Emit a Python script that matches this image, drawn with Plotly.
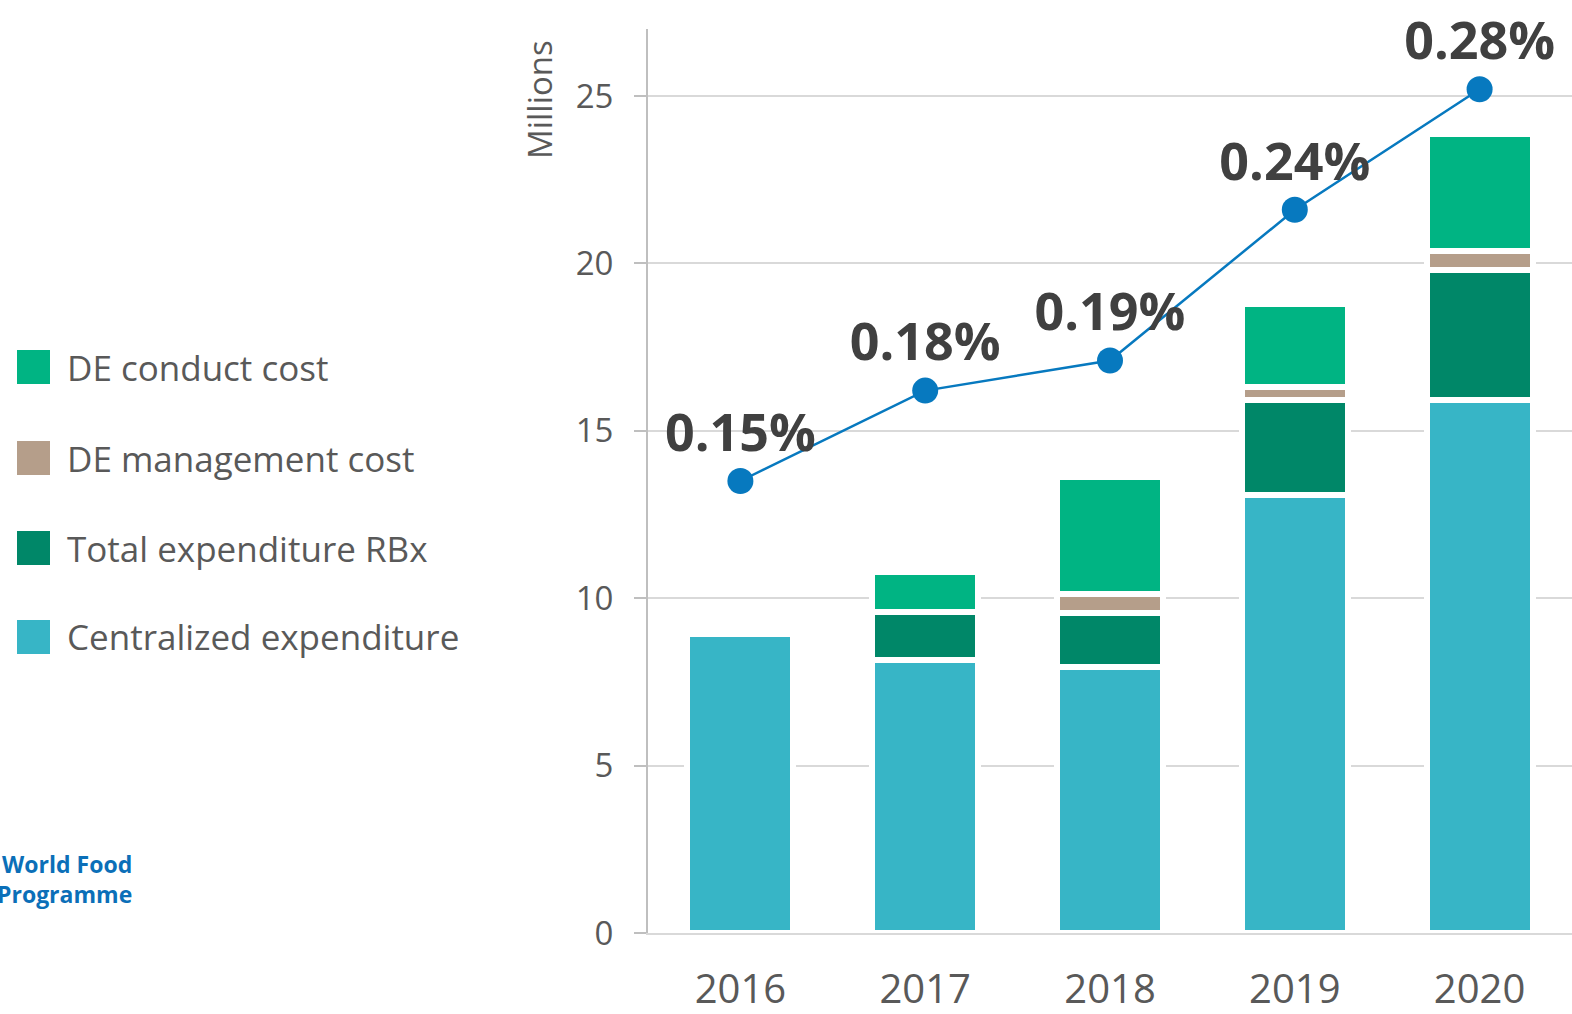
import plotly.graph_objects as go

# ---- data ----
years = ["2016", "2017", "2018", "2019", "2020"]
centralized = [8.93, 8.15, 7.94, 13.08, 15.93]
rbx = [None, 1.43, 1.61, 2.85, 3.86]
mgmt = [None, None, 0.57, 0.38, 0.58]
conduct = [None, 1.20, 3.50, 2.48, 3.49]
share_pct = [0.15, 0.18, 0.19, 0.24, 0.28]
share_labels = ["0.15%", "0.18%", "0.19%", "0.24%", "0.28%"]

series_names = ["Centralized expenditure", "Total expenditure RBx",
                "DE management cost", "DE conduct cost"]
series_values = [centralized, rbx, mgmt, conduct]
series_colors = ["#37B5C6", "#008768", "#B59E8A", "#00B483"]
y_ticks = [0, 5, 10, 15, 20, 25]

# ---- geometry (pixels) ----
W, H = 1572, 1014
T, B = 29, 81
PLOT_LEFT = 648
PH = H - T - B


def px_x(p):
    return p / W


def px_y(p):
    return (H - B - p) / PH


fig = go.Figure()

for name, vals, col in zip(series_names, series_values, series_colors):
    fig.add_trace(go.Bar(
        x=years, y=vals, name=name, width=0.573,
        marker=dict(color=col, line=dict(color="white", width=6)),
        showlegend=False, hoverinfo="x+y+name",
    ))

fig.add_trace(go.Scatter(
    x=years, y=share_pct, yaxis="y2", mode="lines+markers+text",
    text=share_labels, textposition="top center", cliponaxis=False,
    textfont=dict(family="Open Sans", size=52, color="#404040", weight="bold"),
    line=dict(color="#0779BF", width=2.5),
    marker=dict(color="#0779BF", size=26),
    showlegend=False, name="Share",
))

# manual legend (top to bottom: reversed series order)
legend_y = [367, 458, 548, 637]
shapes = []
annotations = []
for (name, col), cy in zip(list(zip(series_names, series_colors))[::-1], legend_y):
    shapes.append(dict(type="rect", xref="paper", yref="paper",
                       x0=px_x(17), x1=px_x(50), y0=px_y(cy + 17), y1=px_y(cy - 17),
                       fillcolor=col, line=dict(width=0)))
    annotations.append(dict(xref="paper", yref="paper", x=px_x(65), y=px_y(cy),
                            xanchor="left", yanchor="middle", showarrow=False,
                            text=name, font=dict(family="Open Sans", size=35, color="#595959")))

# axis title
annotations.append(dict(xref="paper", yref="paper", x=px_x(540), y=px_y(100),
                        xanchor="center", yanchor="middle", showarrow=False, textangle=-90,
                        text="Millions", font=dict(family="Open Sans", size=33, color="#595959")))

# logo text (at the left edge, as in the original)
annotations.append(dict(xref="paper", yref="paper", x=px_x(134), y=px_y(879),
                        xanchor="right", yanchor="middle", showarrow=False, align="right",
                        text="<b>World Food<br>Programme</b>",
                        font=dict(family="Open Sans", size=23, color="#0B6FB8")))

fig.update_layout(
    width=W, height=H, autosize=False,
    margin=dict(l=0, r=0, t=T, b=B, pad=0, autoexpand=False),
    paper_bgcolor="white", plot_bgcolor="white",
    barmode="stack", bargap=0.427,
    font=dict(family="Open Sans", color="#595959"),
    xaxis=dict(domain=[PLOT_LEFT / W, 1], showline=True, linecolor="#D9D9D9", linewidth=2,
               ticks="", showgrid=False, tickfont=dict(size=40, color="#595959"),
               ticklabelstandoff=20, automargin=False, fixedrange=True),
    yaxis=dict(range=[0, 27], tickvals=y_ticks, showgrid=True, gridcolor="#D9D9D9",
               gridwidth=2, zeroline=False, showline=True, linecolor="#BFBFBF", linewidth=2,
               ticks="outside", ticklen=12, tickcolor="#BFBFBF", tickwidth=2,
               tickfont=dict(size=33, color="#595959"), ticklabelstandoff=14,
               automargin=False, fixedrange=True),
    yaxis2=dict(range=[0, 0.3], overlaying="y", side="right", visible=False,
                automargin=False, fixedrange=True),
    shapes=shapes,
    annotations=annotations,
)

fig.write_html("out.html", config={"displayModeBar": False},
               post_script="document.body.style.margin='0';")
